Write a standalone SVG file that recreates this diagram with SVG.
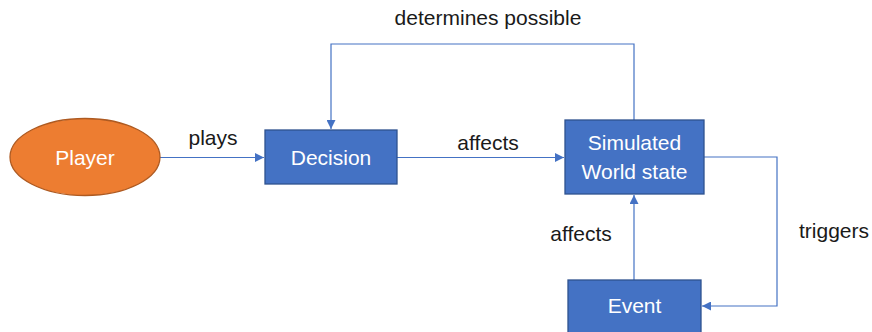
<svg xmlns="http://www.w3.org/2000/svg" width="872" height="332" viewBox="0 0 872 332">
<style>
.box{fill:#4472C4;stroke:#2F528F;stroke-width:1.3}
.ell{fill:#ED7D31;stroke:#AE5A21;stroke-width:1.3}
.lbl{font-family:"Liberation Sans",Arial,sans-serif;font-size:21px;fill:#1a1a1a;text-anchor:middle}
.nt{font-family:"Liberation Sans",Arial,sans-serif;font-size:21px;fill:#ffffff;text-anchor:middle}
.ln{fill:none;stroke:#4472C4;stroke-width:1.2}
</style>
<defs>
<marker id="ah" viewBox="0 0 10 10" refX="10" refY="5" markerWidth="9" markerHeight="9" markerUnits="userSpaceOnUse" orient="auto">
<path d="M0,0 L10,5 L0,10 z" fill="#4472C4"/>
</marker>
</defs>
<rect width="872" height="332" fill="#ffffff"/>
<g id="connectors">
<path class="ln" d="M160,157.5 H264" marker-end="url(#ah)"/>
<path class="ln" d="M397,157.5 H564" marker-end="url(#ah)"/>
<path class="ln" d="M634,120 V44 H331 V129" marker-end="url(#ah)"/>
<path class="ln" d="M704,157 H777 V306 H702" marker-end="url(#ah)"/>
<path class="ln" d="M634,280 V195" marker-end="url(#ah)"/>
<text class="lbl" x="213" y="145">plays</text>
<text class="lbl" x="488" y="150">affects</text>
<text class="lbl" x="488" y="25">determines possible</text>
<text class="lbl" x="581" y="241">affects</text>
<text class="lbl" x="834" y="238">triggers</text>
</g>
<g id="player">
<ellipse class="ell" cx="85" cy="157" rx="75" ry="38.5"/>
<text class="nt" x="85" y="165">Player</text>
</g>
<g id="decision">
<rect class="box" x="265" y="130" width="132" height="54"/>
<text class="nt" x="331" y="165">Decision</text>
</g>
<g id="world">
<rect class="box" x="565" y="120" width="139" height="74"/>
<text class="nt" x="634.5" y="150">Simulated</text>
<text class="nt" x="634.5" y="179">World state</text>
</g>
<g id="event">
<rect class="box" x="568" y="280" width="133" height="60"/>
<text class="nt" x="634.5" y="313">Event</text>
</g>
</svg>
